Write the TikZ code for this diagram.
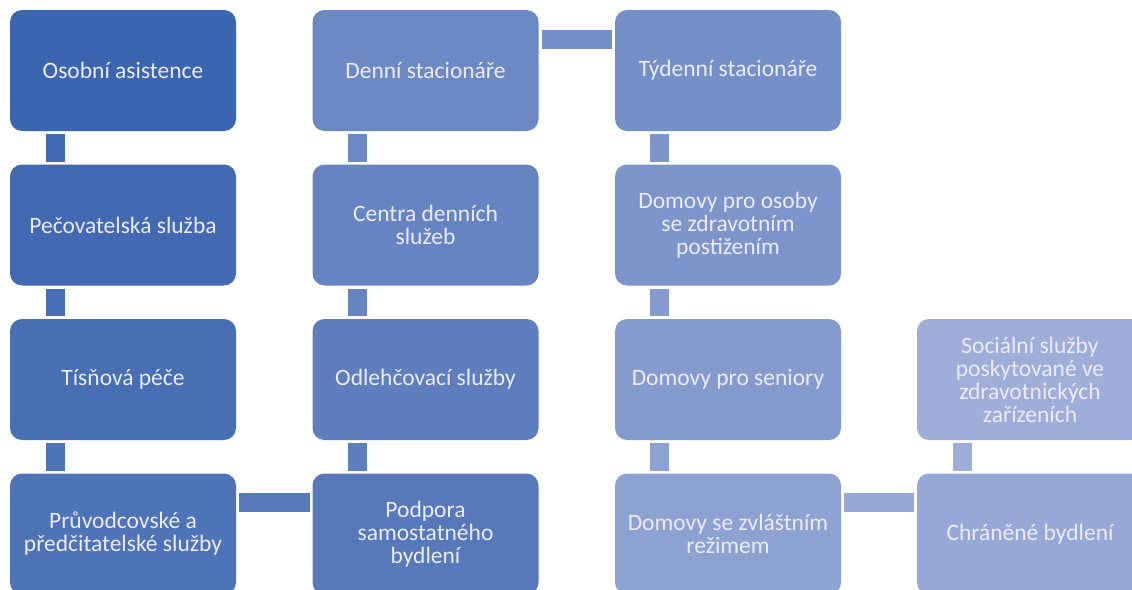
\documentclass[tikz,border=0pt]{standalone}
\usepackage{fontspec}
\setmainfont{Carlito}
\usepackage{tikz}
\usetikzlibrary{positioning, calc}
\definecolor{darkblue}{RGB}{60,101,175}
\definecolor{paleblue}{RGB}{159,174,217}
\colorlet{c0}{paleblue!0!darkblue}
\colorlet{c1}{paleblue!6!darkblue}
\colorlet{c2}{paleblue!12!darkblue}
\colorlet{c3}{paleblue!19!darkblue}
\colorlet{c4}{paleblue!27!darkblue}
\colorlet{c5}{paleblue!34!darkblue}
\colorlet{c6}{paleblue!42!darkblue}
\colorlet{c7}{paleblue!50!darkblue}
\colorlet{c8}{paleblue!58!darkblue}
\colorlet{c9}{paleblue!66!darkblue}
\colorlet{c10}{paleblue!74!darkblue}
\colorlet{c11}{paleblue!83!darkblue}
\colorlet{c12}{paleblue!92!darkblue}
\colorlet{c13}{paleblue!100!darkblue}
\tikzset{
  card/.style={
    rectangle, rounded corners=12pt, minimum width=226pt, minimum height=121pt,
    inner sep=0pt, outer sep=0pt, align=center, text=white!92!blue,
    font=\fontsize{23.5}{23}\selectfont
  },
  link/.style={line width=19pt, shorten <=3pt, shorten >=3pt},
}
\begin{document}
\begin{tikzpicture}[x=1pt, y=-1pt]
  \useasboundingbox (0,0) rectangle (1132,589);
  % first column
  \node[card, fill=c0] (osobni) at (123,70.5) {Osobní asistence};
  \node[card, fill=c1] (pecovatel) at (123,225) {Pečovatelská služba};
  \node[card, fill=c2] (tisnova) at (123,379.5) {Tísňová péče};
  \node[card, fill=c3] (pruvodce) at (123,534) {Průvodcovské a\\předčitatelské služby};
  % second column
  \node[card, fill=c4] (podpora) at (425.5,534) {Podpora\\samostatného\\bydlení};
  \node[card, fill=c5] (odlehc) at (425.5,379.5) {Odlehčovací služby};
  \node[card, fill=c6] (centra) at (425.5,225) {Centra denních\\služeb};
  \node[card, fill=c7] (denni) at (425.5,70.5) {Denní stacionáře};
  % third column
  \node[card, fill=c8] (tydenni) at (728,70.5) {Týdenní stacionáře};
  \node[card, fill=c9] (postiz) at (728,225) {Domovy pro osoby\\se zdravotním\\postižením};
  \node[card, fill=c10] (seniori) at (728,379.5) {Domovy pro seniory};
  \node[card, fill=c11] (rezim) at (728,534) {Domovy se zvláštním\\režimem};
  % fourth column
  \node[card, fill=c12] (chranene) at (1030,534) {Chráněné bydlení};
  \node[card, fill=c13] (zdravot) at (1030,379.5) {Sociální služby\\poskytované ve\\zdravotnických\\zařízeních};

  \draw[link, c1] ([xshift=45pt]osobni.south west) -- ([xshift=45pt]pecovatel.north west);
  \draw[link, c2] ([xshift=45pt]pecovatel.south west) -- ([xshift=45pt]tisnova.north west);
  \draw[link, c3] ([xshift=45pt]tisnova.south west) -- ([xshift=45pt]pruvodce.north west);
  \draw[link, c4] ([yshift=-29pt]pruvodce.north east) -- ([yshift=-29pt]podpora.north west);
  \draw[link, c5] ([xshift=45pt]podpora.north west) -- ([xshift=45pt]odlehc.south west);
  \draw[link, c6] ([xshift=45pt]odlehc.north west) -- ([xshift=45pt]centra.south west);
  \draw[link, c7] ([xshift=45pt]centra.north west) -- ([xshift=45pt]denni.south west);
  \draw[link, c8] ([yshift=-29pt]denni.north east) -- ([yshift=-29pt]tydenni.north west);
  \draw[link, c9] ([xshift=44pt]tydenni.south west) -- ([xshift=44pt]postiz.north west);
  \draw[link, c10] ([xshift=44pt]postiz.south west) -- ([xshift=44pt]seniori.north west);
  \draw[link, c11] ([xshift=44pt]seniori.south west) -- ([xshift=44pt]rezim.north west);
  \draw[link, c12] ([yshift=-29pt]rezim.north east) -- ([yshift=-29pt]chranene.north west);
  \draw[link, c13] ([xshift=45pt]chranene.north west) -- ([xshift=45pt]zdravot.south west);
\end{tikzpicture}
\end{document}
